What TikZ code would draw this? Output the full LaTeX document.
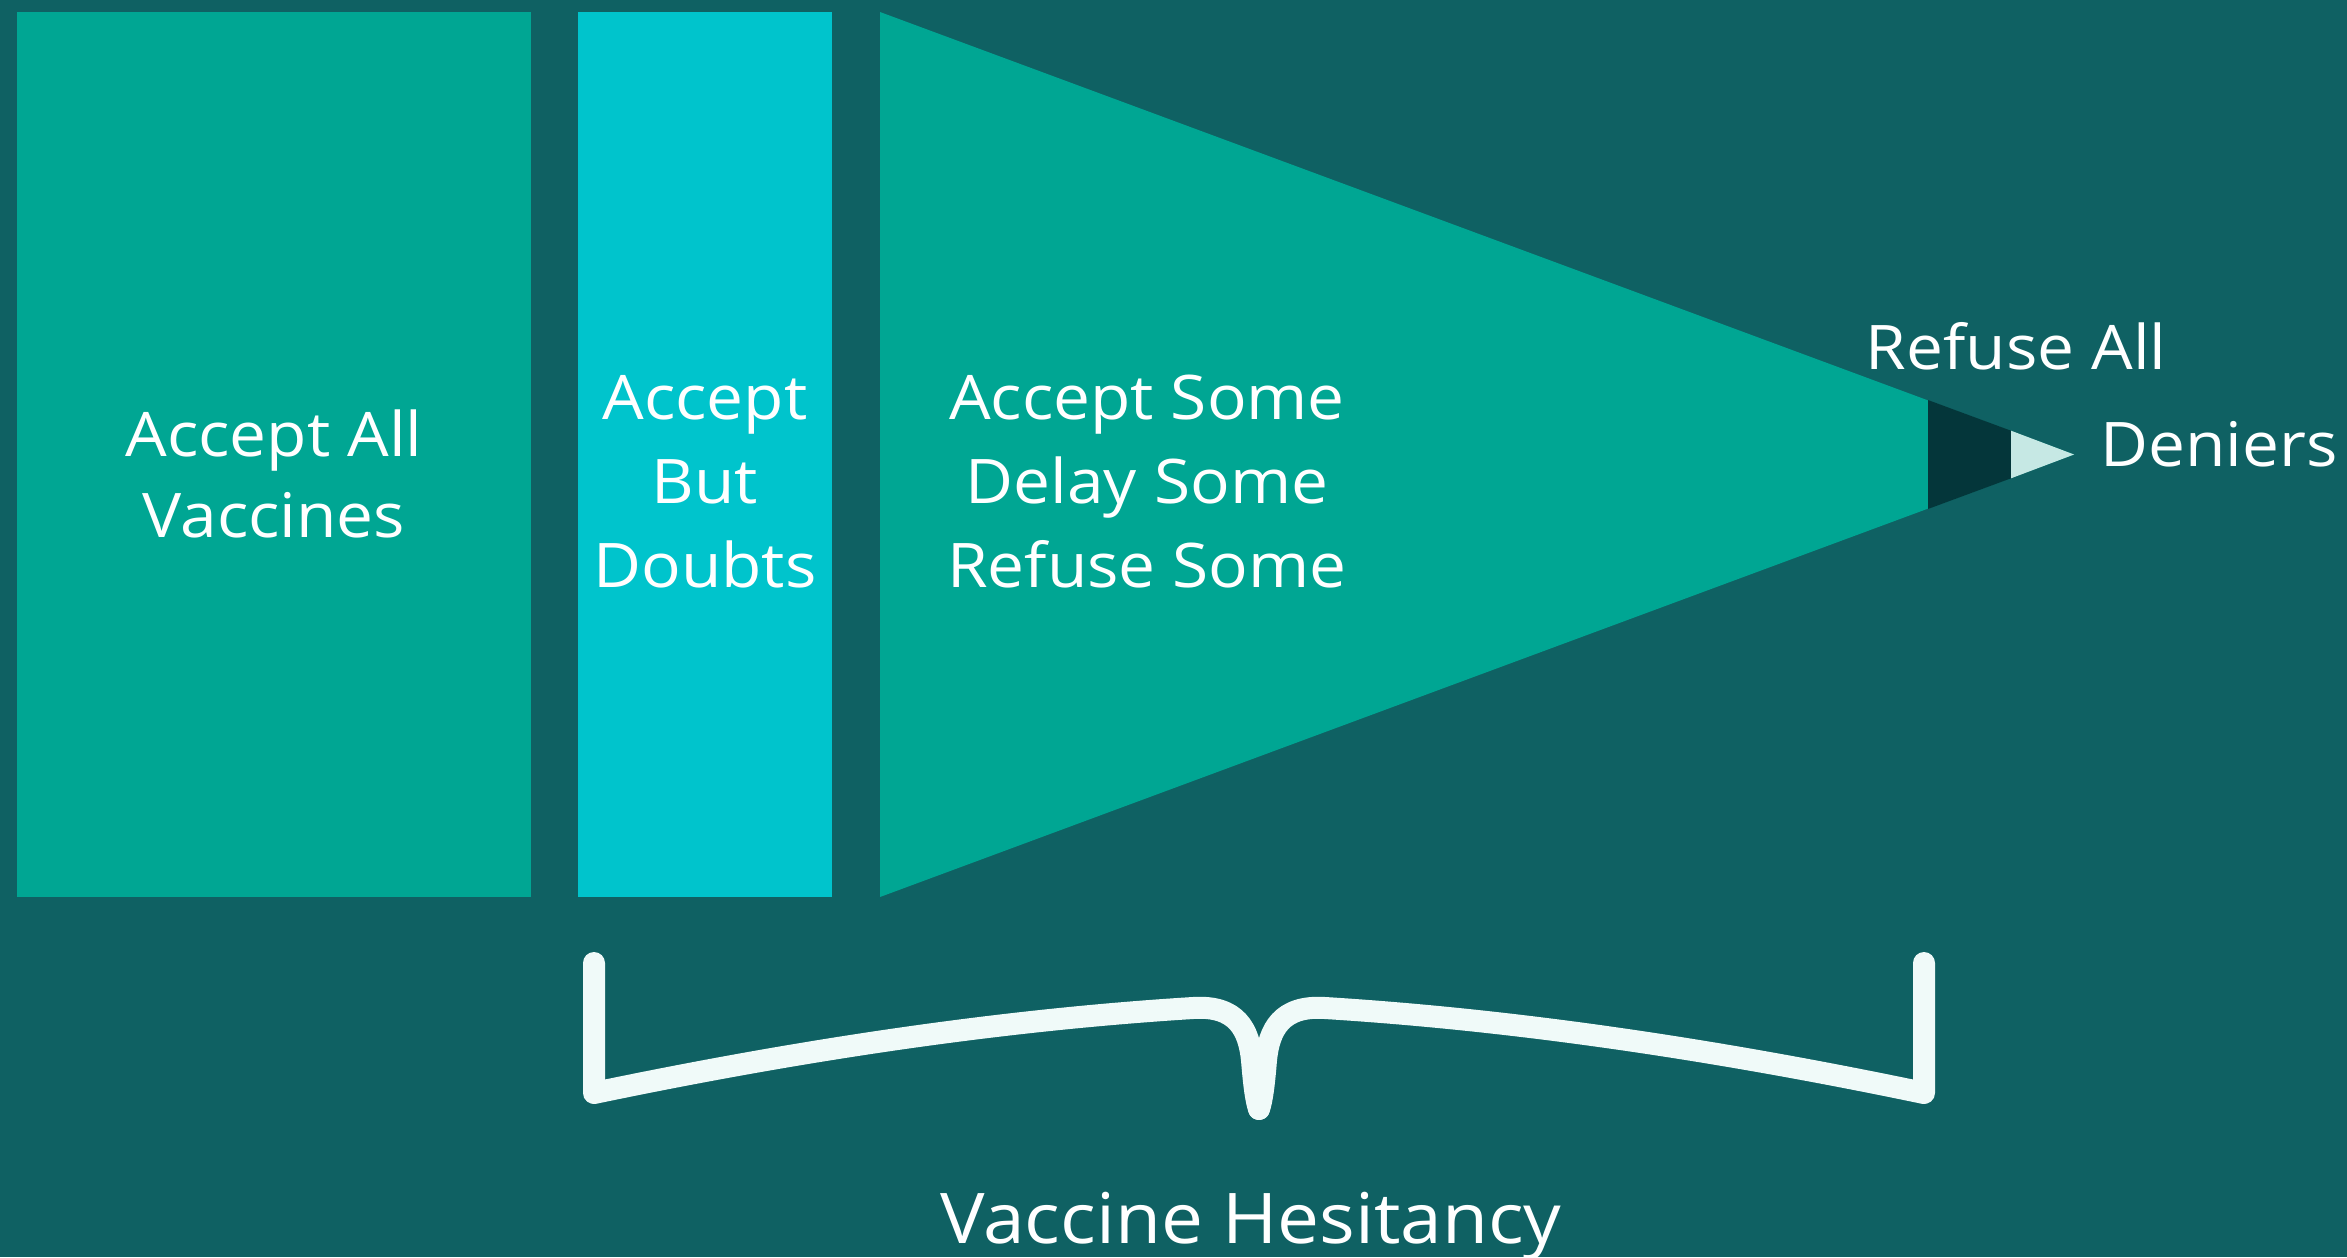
\documentclass[tikz,border=0pt]{standalone}
\usepackage{fontspec}
\setmainfont{Open Sans}[FakeStretch=1.07]
\definecolor{bgteal}{HTML}{0F6163}
\definecolor{sea}{HTML}{00A693}
\definecolor{aqua}{HTML}{00C4CC}
\definecolor{deep}{HTML}{04363A}
\definecolor{pale}{HTML}{C6E8E4}
\definecolor{snow}{HTML}{F0FAF9}
\begin{document}
\begin{tikzpicture}[x=0.1mm,y=-0.1mm,
  lbl/.style={text=white,inner sep=0pt,anchor=base,font=\fontsize{17.5}{23.9}\selectfont},
  biglbl/.style={lbl,font=\fontsize{19.9}{26}\selectfont},
  bracepen/.style={draw=snow,line width=2.2mm,line cap=round,line join=round}]
  % canvas
  \fill[bgteal] (0,0) rectangle (2347,1257);
  \useasboundingbox (0,0) rectangle (2347,1257);

  % the three population blocks
  \fill[sea]  (17,12) rectangle (531,897);
  \fill[aqua] (578,12) rectangle (832,897);
  \fill[sea]  (880,12) -- (2074,454.5) -- (880,897) -- cycle;
  \fill[deep] (1928,400) -- (2011,430.7) -- (2011,478.3) -- (1928,509) -- cycle;
  \fill[pale] (2011,430.7) -- (2074,454.5) -- (2011,478.3) -- cycle;

  % labels
  \node[lbl] (aa1) at (274,456) {Accept All};
  \node[lbl] (aa2) at (274,537) {Vaccines};
  \node[lbl] (ab1) at (705,419) {Accept};
  \node[lbl] (ab2) at (705,503) {But};
  \node[lbl] (ab3) at (705,587) {Doubts};
  \node[lbl] (as1) at (1147,419) {Accept Some};
  \node[lbl] (as2) at (1147,503) {Delay Some};
  \node[lbl] (as3) at (1147,587) {Refuse Some};
  \node[lbl] (ra) at (2016,369) {Refuse All};
  \node[lbl] (dn) at (2219,466) {Deniers};

  % brace under the hesitant groups
  \draw[bracepen] (594,963) -- (594,1093)
    .. controls (800,1050) and (1000,1020) .. (1193,1008)
    .. controls (1237,1005) and (1249,1030) .. (1252,1060)
    .. controls (1254,1085) and (1256,1100) .. (1259,1109);
  \draw[bracepen] (1924,963) -- (1924,1093)
    .. controls (1718,1050) and (1518,1020) .. (1325,1008)
    .. controls (1281,1005) and (1269,1030) .. (1266,1060)
    .. controls (1264,1085) and (1262,1100) .. (1259,1109);

  \node[biglbl] (vh) at (1251,1243) {Vaccine Hesitancy};
\end{tikzpicture}
\end{document}
